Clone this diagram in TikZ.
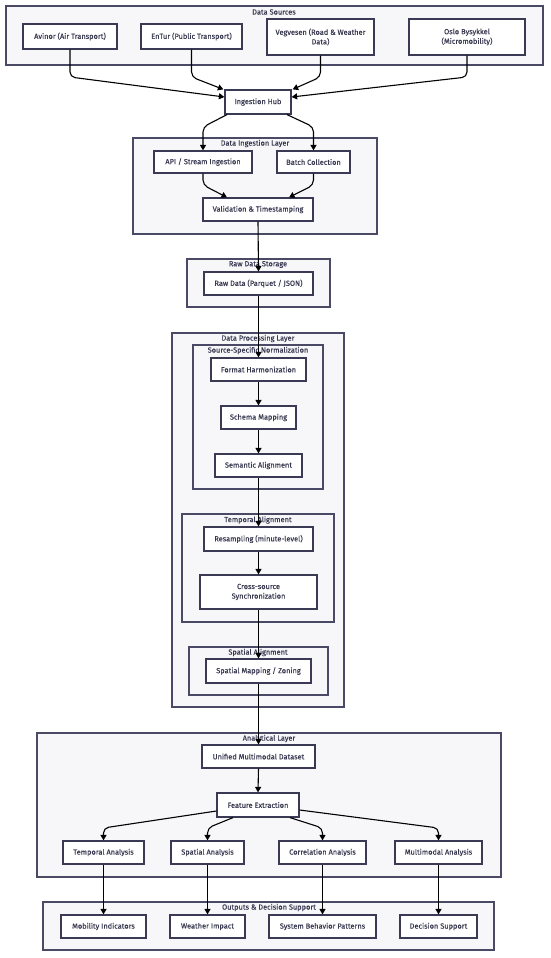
\documentclass[tikz,border=0pt]{standalone}
\usepackage{fontspec}
\setmainfont{Fira Sans}
\newfontfamily\nodefont{Fira Sans}[FakeBold=0.15]
\usetikzlibrary{arrows.meta,shadows,calc}
\definecolor{bd}{HTML}{3A3A55}
\definecolor{cfill}{HTML}{F7F7FA}
\definecolor{cbd}{HTML}{4A4A66}
\definecolor{txt}{HTML}{383850}
\tikzset{
  nd/.style={draw=bd, line width=1.2pt, fill=white, text=txt, align=center, inner sep=1pt,
    font=\nodefont\fontsize{7.4}{9.6}\selectfont,
    drop shadow={shadow xshift=1pt, shadow yshift=-1pt, opacity=0.18, fill=black}},
  cont/.style={draw=cbd, line width=1.1pt, fill=cfill, inner sep=0pt},
  ttl/.style={text=txt, inner sep=0pt, font=\nodefont\fontsize{7.4}{9}\selectfont},
  arr/.style={draw=black, line width=1.1pt, rounded corners=5pt, -{Triangle[length=5.5pt,width=6pt]}},
}
\newcommand\mkbox[7]{\node[#1, minimum width={#5-#3}, minimum height={#6-#4}] (#2) at ({(#3+#5)/2},{(#4+#6)/2}) {#7};}
\begin{document}
\begin{tikzpicture}[x=1pt,y=-1pt]
\useasboundingbox (0,0) rectangle (550,958);
% containers
\mkbox{cont}{cDS}{6}{6}{543}{65}{}
\node[ttl] (tDS) at (274,12) {Data Sources};
\mkbox{cont}{cIN}{133}{138}{377}{234}{}
\node[ttl] (tIN) at (255,143.5) {Data Ingestion Layer};
\mkbox{cont}{cRS}{187}{259}{330}{307}{}
\node[ttl] (tRS) at (258,264.5) {Raw Data Storage};
\mkbox{cont}{cDP}{172}{333}{344}{707}{}
\node[ttl] (tDP) at (258,338.5) {Data Processing Layer};
\mkbox{cont}{cSN}{193}{345}{323}{489}{}
\node[ttl] (tSN) at (258,350.5) {Source-Specific Normalization};
\mkbox{cont}{cTA}{182}{514}{334}{622}{}
\node[ttl] (tTA) at (258,520) {Temporal Alignment};
\mkbox{cont}{cSA}{189}{647}{328}{695}{}
\node[ttl] (tSA) at (258,652.5) {Spatial Alignment};
\mkbox{cont}{cAL}{37}{733}{501}{877}{}
\node[ttl] (tAL) at (269,738.5) {Analytical Layer};
\mkbox{cont}{cOD}{43}{902}{494}{950}{}
\node[ttl] (tOD) at (269,907.5) {Outputs \& Decision Support};
% nodes
\mkbox{nd}{av}{23}{24}{117}{49}{Avinor (Air Transport)}
\mkbox{nd}{en}{141}{24}{242}{49}{EnTur (Public Transport)}
\mkbox{nd}{vv}{267}{19}{374}{55}{Vegvesen (Road \& Weather\\Data)}
\mkbox{nd}{ob}{409}{19}{525}{55}{Oslo Bysykkel\\(Micromobility)}
\mkbox{nd}{hub}{225}{90}{291}{114}{Ingestion Hub}
\mkbox{nd}{api}{154}{151}{252}{173}{API / Stream Ingestion}
\mkbox{nd}{bat}{277}{151}{350}{173}{Batch Collection}
\mkbox{nd}{val}{203}{198}{313}{221}{Validation \& Timestamping}
\mkbox{nd}{raw}{204}{272}{313}{295}{Raw Data (Parquet / JSON)}
\mkbox{nd}{fmt}{211}{358}{306}{381}{Format Harmonization}
\mkbox{nd}{sch}{221}{406}{296}{429}{Schema Mapping}
\mkbox{nd}{sem}{215}{454}{302}{477}{Semantic Alignment}
\mkbox{nd}{res}{204}{527}{313}{551}{Resampling (minute-level)}
\mkbox{nd}{crs}{200}{575}{317}{609}{Cross-source\\Synchronization}
\mkbox{nd}{smp}{206}{659}{311}{683}{Spatial Mapping / Zoning}
\mkbox{nd}{uni}{202}{745}{315}{768}{Unified Multimodal Dataset}
\mkbox{nd}{fea}{217}{793}{299}{817}{Feature Extraction}
\mkbox{nd}{tan}{63}{841}{144}{864}{Temporal Analysis}
\mkbox{nd}{san}{171}{841}{244}{864}{Spatial Analysis}
\mkbox{nd}{can}{279}{841}{366}{864}{Correlation Analysis}
\mkbox{nd}{man}{395}{841}{482}{864}{Multimodal Analysis}
\mkbox{nd}{mob}{61}{915}{146}{938}{Mobility Indicators}
\mkbox{nd}{wea}{170}{915}{245}{938}{Weather Impact}
\mkbox{nd}{sys}{269}{915}{376}{938}{System Behavior Patterns}
\mkbox{nd}{dec}{400}{915}{477}{938}{Decision Support}
% bend levels
\coordinate (b1) at (0,77);
\coordinate (b2) at (0,127);
\coordinate (b3) at (0,185);
\coordinate (b4) at (0,828);
% connectors
\draw[arr] (av.south) -- (av.south |- b1) -- ([yshift=5pt]hub.west);
\draw[arr] (en.south) -- (en.south |- b1) -- ([xshift=-1pt]hub.north west);
\draw[arr] (vv.south) -- (vv.south |- b1) -- ([xshift=1pt]hub.north east);
\draw[arr] (ob.south) -- (ob.south |- b1) -- ([yshift=5pt]hub.east);
\draw[arr] ([xshift=-31pt]hub.south) -- (api.north |- b2) -- (api.north);
\draw[arr] ([xshift=29pt]hub.south) -- (bat.north |- b2) -- (bat.north);
\draw[arr] (api.south) -- (api.south |- b3) -- ([xshift=-31pt]val.north);
\draw[arr] (bat.south) -- (bat.south |- b3) -- ([xshift=31pt]val.north);
\draw[arr] (val.south) -- (raw.north);
\draw[arr] (raw.south) -- (fmt.north);
\draw[arr] (fmt.south) -- (sch.north);
\draw[arr] (sch.south) -- (sem.north);
\draw[arr] (sem.south) -- (res.north);
\draw[arr] (res.south) -- (crs.north);
\draw[arr] (crs.south) -- (smp.north);
\draw[arr] (smp.south) -- (uni.north);
\draw[arr] (uni.south) -- (fea.north);
\draw[arr] ([yshift=-6pt]fea.west) -- (tan.north |- b4) -- (tan.north);
\draw[arr] ([xshift=-25pt]fea.south) -- (san.north |- b4) -- (san.north);
\draw[arr] ([xshift=32pt]fea.south) -- (can.north |- b4) -- (can.north);
\draw[arr] ([yshift=-5pt]fea.east) -- (man.north |- b4) -- (man.north);
\draw[arr] (tan.south) -- (mob.north);
\draw[arr] (san.south) -- (wea.north);
\draw[arr] (can.south) -- (sys.north);
\draw[arr] (man.south) -- (dec.north);
\end{tikzpicture}
\end{document}
